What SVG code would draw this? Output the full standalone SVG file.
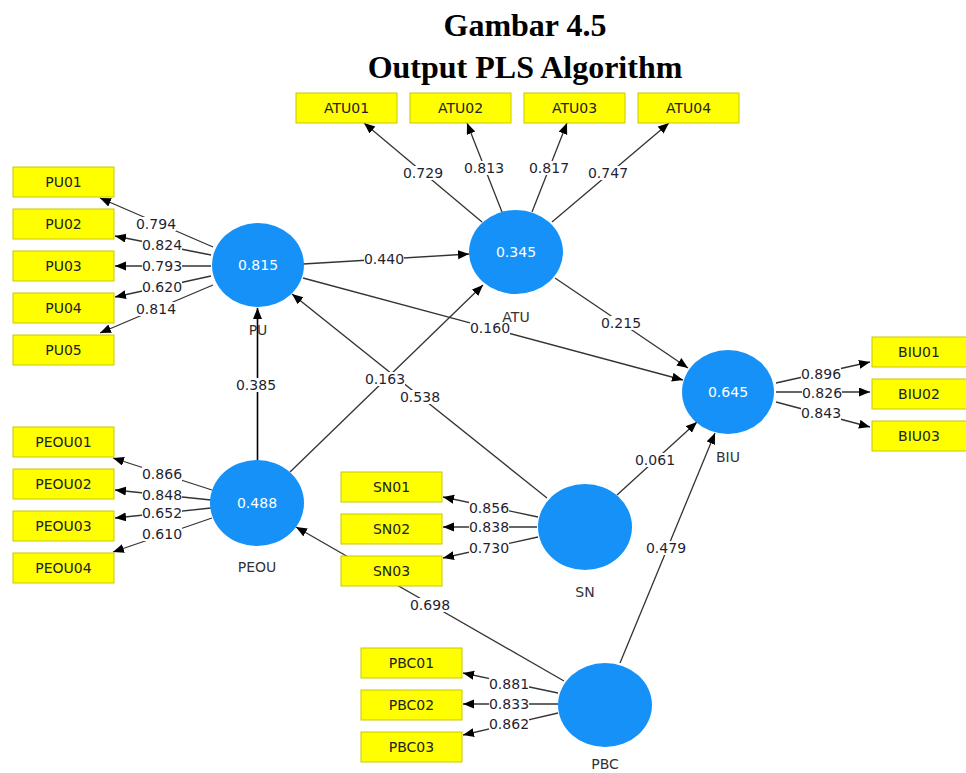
<svg xmlns="http://www.w3.org/2000/svg" width="966" height="773" viewBox="0 0 966 773">
<style>
.box{fill:#ffff00;stroke:#c8c800;stroke-width:1}
.bt{font-family:"DejaVu Sans",Tahoma,sans-serif;font-size:14px;fill:#222;text-anchor:middle}
.ln{stroke:#333;stroke-width:1.3;fill:none;marker-end:url(#ah)}
.bg{fill:#fff}
.lb{font-family:"DejaVu Sans",Tahoma,sans-serif;font-size:14px;fill:#1f1f33;text-anchor:middle}
.cv{fill:#1691f8}
.ct{font-family:"DejaVu Sans",Tahoma,sans-serif;font-size:14px;fill:#fff;text-anchor:middle}
.nl{font-family:"DejaVu Sans",Tahoma,sans-serif;font-size:14px;fill:#333;text-anchor:middle}
.title{font-family:"Liberation Serif","Times New Roman",serif;font-weight:bold;font-size:32px;fill:#000;text-anchor:middle}
</style>
<defs>
<marker id="ah" markerUnits="userSpaceOnUse" markerWidth="12" markerHeight="10" refX="11" refY="4.5" orient="auto">
<path d="M0,0 L11,4.5 L0,9 z" fill="#000"/>
</marker>
<rect id="lbg" class="bg" x="-20" y="-7" width="40" height="14"/>
</defs>
<rect width="966" height="773" fill="#fff"/>
<g id="title">
<text class="title" x="525" y="36">Gambar 4.5</text>
<text class="title" x="525" y="78">Output PLS Algorithm</text>
</g>
<g id="connectors">
<line class="ln" x1="213" y1="247" x2="100" y2="198"/>
<line class="ln" x1="211" y1="255" x2="115" y2="236"/>
<line class="ln" x1="211" y1="266" x2="115" y2="266"/>
<line class="ln" x1="211" y1="276" x2="115" y2="297"/>
<line class="ln" x1="213" y1="285" x2="100" y2="333"/>
<line class="ln" x1="482" y1="222" x2="364" y2="123"/>
<line class="ln" x1="502" y1="212" x2="467" y2="123"/>
<line class="ln" x1="532" y1="212" x2="567" y2="123"/>
<line class="ln" x1="552" y1="222" x2="669" y2="123"/>
<line class="ln" x1="776" y1="383" x2="870" y2="362"/>
<line class="ln" x1="776" y1="392" x2="870" y2="392"/>
<line class="ln" x1="776" y1="402" x2="870" y2="427"/>
<line class="ln" x1="212" y1="490" x2="113" y2="458"/>
<line class="ln" x1="211" y1="500" x2="115" y2="490"/>
<line class="ln" x1="211" y1="508" x2="115" y2="518"/>
<line class="ln" x1="212" y1="518" x2="113" y2="552"/>
<line class="ln" x1="538" y1="517" x2="443" y2="497"/>
<line class="ln" x1="537" y1="527" x2="443" y2="527"/>
<line class="ln" x1="538" y1="537" x2="443" y2="558"/>
<line class="ln" x1="558" y1="693" x2="463" y2="673"/>
<line class="ln" x1="558" y1="704" x2="463" y2="704"/>
<line class="ln" x1="558" y1="713" x2="463" y2="735"/>
<line class="ln" x1="303" y1="264" x2="469" y2="254"/>
<line class="ln" x1="303" y1="278" x2="683" y2="380"/>
<line class="ln" x1="555" y1="278" x2="688" y2="368"/>
<line class="ln" x1="257.5" y1="461" x2="257.5" y2="308" style="stroke:#000;stroke-width:1.6"/>
<line class="ln" x1="290" y1="472" x2="483" y2="285"/>
<line class="ln" x1="547" y1="498" x2="292" y2="294"/>
<line class="ln" x1="617" y1="495" x2="697" y2="422"/>
<line class="ln" x1="620" y1="663" x2="715" y2="433"/>
<line class="ln" x1="564" y1="681" x2="296" y2="527"/>
<g id="label-bgs">
<use href="#lbg" x="156" y="224"/><use href="#lbg" x="162" y="245"/><use href="#lbg" x="162" y="266"/><use href="#lbg" x="162" y="287"/><use href="#lbg" x="156" y="309"/>
<use href="#lbg" x="423" y="173"/><use href="#lbg" x="484" y="168"/><use href="#lbg" x="549" y="168"/><use href="#lbg" x="608" y="173"/>
<use href="#lbg" x="821" y="374"/><use href="#lbg" x="822" y="393"/><use href="#lbg" x="821" y="413"/>
<use href="#lbg" x="162" y="474"/><use href="#lbg" x="162" y="495"/><use href="#lbg" x="162" y="513"/><use href="#lbg" x="162" y="534"/>
<use href="#lbg" x="489" y="508"/><use href="#lbg" x="489" y="527"/><use href="#lbg" x="489" y="548"/>
<use href="#lbg" x="509" y="684"/><use href="#lbg" x="509" y="704"/><use href="#lbg" x="509" y="724"/>
<use href="#lbg" x="384" y="259"/><use href="#lbg" x="490" y="328"/><use href="#lbg" x="621" y="323"/><use href="#lbg" x="256" y="385"/><use href="#lbg" x="385" y="379"/><use href="#lbg" x="420" y="397"/><use href="#lbg" x="655" y="460"/><use href="#lbg" x="666" y="548"/><use href="#lbg" x="430" y="605"/>
</g>
<text class="lb" x="156" y="229">0.794</text>
<text class="lb" x="162" y="250">0.824</text>
<text class="lb" x="162" y="271">0.793</text>
<text class="lb" x="162" y="292">0.620</text>
<text class="lb" x="156" y="314">0.814</text>
<text class="lb" x="423" y="178">0.729</text>
<text class="lb" x="484" y="173">0.813</text>
<text class="lb" x="549" y="173">0.817</text>
<text class="lb" x="608" y="178">0.747</text>
<text class="lb" x="821" y="379">0.896</text>
<text class="lb" x="822" y="398">0.826</text>
<text class="lb" x="821" y="418">0.843</text>
<text class="lb" x="162" y="479">0.866</text>
<text class="lb" x="162" y="500">0.848</text>
<text class="lb" x="162" y="518">0.652</text>
<text class="lb" x="162" y="539">0.610</text>
<text class="lb" x="489" y="513">0.856</text>
<text class="lb" x="489" y="532">0.838</text>
<text class="lb" x="489" y="553">0.730</text>
<text class="lb" x="509" y="689">0.881</text>
<text class="lb" x="509" y="709">0.833</text>
<text class="lb" x="509" y="729">0.862</text>
<text class="lb" x="384" y="264">0.440</text>
<text class="lb" x="490" y="333">0.160</text>
<text class="lb" x="621" y="328">0.215</text>
<text class="lb" x="256" y="390">0.385</text>
<text class="lb" x="385" y="384">0.163</text>
<text class="lb" x="420" y="402">0.538</text>
<text class="lb" x="655" y="465">0.061</text>
<text class="lb" x="666" y="553">0.479</text>
<text class="lb" x="430" y="610">0.698</text>
</g>
<g id="PU"><ellipse class="cv" cx="258" cy="265" rx="46" ry="42"/><text class="ct" x="258" y="270">0.815</text><text class="nl" x="258" y="335">PU</text></g>
<g id="ATU"><ellipse class="cv" cx="516" cy="252" rx="47" ry="42"/><text class="ct" x="516" y="257">0.345</text><text class="nl" x="516" y="322">ATU</text></g>
<g id="BIU"><ellipse class="cv" cx="728" cy="392" rx="46" ry="42"/><text class="ct" x="728" y="397">0.645</text><text class="nl" x="728" y="462">BIU</text></g>
<g id="PEOU"><ellipse class="cv" cx="257" cy="503" rx="47" ry="43"/><text class="ct" x="257" y="508">0.488</text><text class="nl" x="257" y="572">PEOU</text></g>
<g id="SN"><ellipse class="cv" cx="585" cy="527" rx="47" ry="43"/><text class="nl" x="585" y="597">SN</text></g>
<g id="PBC"><ellipse class="cv" cx="605" cy="705" rx="47" ry="42"/><text class="nl" x="605" y="769">PBC</text></g>
<g id="PU01"><rect class="box" x="13" y="167" width="101" height="30"/><text class="bt" x="63.5" y="187">PU01</text></g>
<g id="PU02"><rect class="box" x="13" y="209" width="101" height="30"/><text class="bt" x="63.5" y="229">PU02</text></g>
<g id="PU03"><rect class="box" x="13" y="251" width="101" height="30"/><text class="bt" x="63.5" y="271">PU03</text></g>
<g id="PU04"><rect class="box" x="13" y="293" width="101" height="30"/><text class="bt" x="63.5" y="313">PU04</text></g>
<g id="PU05"><rect class="box" x="13" y="335" width="101" height="30"/><text class="bt" x="63.5" y="355">PU05</text></g>
<g id="ATU01"><rect class="box" x="296" y="93" width="101" height="30"/><text class="bt" x="346.5" y="113">ATU01</text></g>
<g id="ATU02"><rect class="box" x="410" y="93" width="101" height="30"/><text class="bt" x="460.5" y="113">ATU02</text></g>
<g id="ATU03"><rect class="box" x="524" y="93" width="101" height="30"/><text class="bt" x="574.5" y="113">ATU03</text></g>
<g id="ATU04"><rect class="box" x="638" y="93" width="101" height="30"/><text class="bt" x="688.5" y="113">ATU04</text></g>
<g id="BIU01"><rect class="box" x="872" y="337" width="101" height="30"/><text class="bt" x="919" y="357">BIU01</text></g>
<g id="BIU02"><rect class="box" x="872" y="379" width="101" height="30"/><text class="bt" x="919" y="399">BIU02</text></g>
<g id="BIU03"><rect class="box" x="872" y="421" width="101" height="30"/><text class="bt" x="919" y="441">BIU03</text></g>
<g id="PEOU01"><rect class="box" x="13" y="427" width="101" height="30"/><text class="bt" x="63.5" y="447">PEOU01</text></g>
<g id="PEOU02"><rect class="box" x="13" y="469" width="101" height="30"/><text class="bt" x="63.5" y="489">PEOU02</text></g>
<g id="PEOU03"><rect class="box" x="13" y="511" width="101" height="30"/><text class="bt" x="63.5" y="531">PEOU03</text></g>
<g id="PEOU04"><rect class="box" x="13" y="553" width="101" height="30"/><text class="bt" x="63.5" y="573">PEOU04</text></g>
<g id="SN01"><rect class="box" x="341" y="472" width="101" height="30"/><text class="bt" x="391.5" y="492">SN01</text></g>
<g id="SN02"><rect class="box" x="341" y="514" width="101" height="30"/><text class="bt" x="391.5" y="534">SN02</text></g>
<g id="SN03"><rect class="box" x="341" y="556" width="101" height="30"/><text class="bt" x="391.5" y="576">SN03</text></g>
<g id="PBC01"><rect class="box" x="361" y="648" width="101" height="30"/><text class="bt" x="411.5" y="668">PBC01</text></g>
<g id="PBC02"><rect class="box" x="361" y="690" width="101" height="30"/><text class="bt" x="411.5" y="710">PBC02</text></g>
<g id="PBC03"><rect class="box" x="361" y="732" width="101" height="30"/><text class="bt" x="411.5" y="752">PBC03</text></g>
</svg>
